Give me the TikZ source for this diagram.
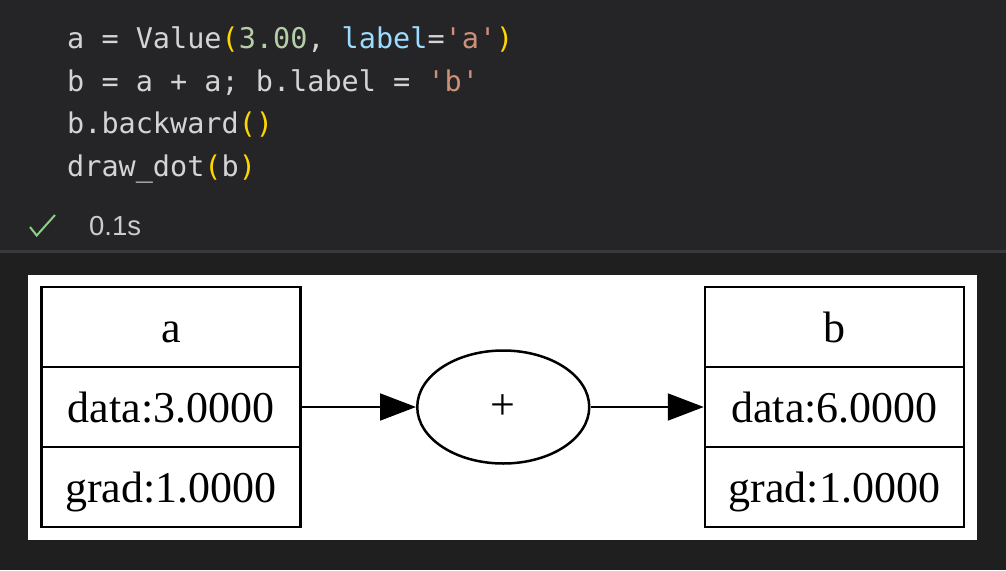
\documentclass[tikz,border=0pt]{standalone}
\usepackage{fontspec}
\setmainfont{Liberation Serif}
\setsansfont{Liberation Sans}
\setmonofont{DejaVu Sans Mono}
\usetikzlibrary{matrix,positioning,arrows.meta,shapes.geometric}
\definecolor{codebg}{HTML}{252527}
\definecolor{outbg}{HTML}{1F1F1F}
\definecolor{sepline}{HTML}{3A3A3D}
\definecolor{codefg}{HTML}{D4D4D4}
\definecolor{codeparen}{HTML}{FFD700}
\definecolor{codenum}{HTML}{B5CEA8}
\definecolor{codekey}{HTML}{9CDCFE}
\definecolor{codestr}{HTML}{CE9178}
\definecolor{checkgreen}{HTML}{89D185}
\definecolor{timefg}{HTML}{CCCCCC}

\begin{document}
\begin{tikzpicture}[x=1pt, y=-1pt,
    vmatrix/.style={
        matrix of nodes,
        line width=2.5pt,
        nodes={
            draw,
            minimum height=80pt,
            minimum width=259pt,
            text height=31pt,
            text depth=1pt,
            anchor=center,
            font=\fontsize{44}{50}\selectfont
            },
        column sep=-\pgflinewidth,
        row sep=-\pgflinewidth,
        inner sep=0pt
    },
    opnode/.style={
        draw,
        ellipse,
        line width=2.5pt,
        minimum width=172pt,
        minimum height=113pt,
        inner sep=0pt,
        font=\fontsize{44}{50}\selectfont
    },
    codeline/.style={
        anchor=base west,
        inner sep=0pt,
        text=codefg,
        font=\ttfamily\fontsize{28.5}{34}\selectfont
    },
    edge/.style={
        line width=2pt,
        -{Triangle[length=36pt,width=27pt]}
    }
]

\useasboundingbox (0,0) rectangle (1006,570);

% notebook cell and output area
\fill[codebg] (0,0) rectangle (1006,252);
\fill[outbg] (0,252) rectangle (1006,570);
\draw[sepline, line width=3pt] (0,251.5) -- (1006,251.5);

% code lines
\node[codeline] (line1) at (67,48) {a = Value\textcolor{codeparen}{(}\textcolor{codenum}{3.00}, \textcolor{codekey}{label}=\textcolor{codestr}{'a'}\textcolor{codeparen}{)}};
\node[codeline] (line2) at (67,91) {b = a + a; b.label = \textcolor{codestr}{'b'}};
\node[codeline] (line3) at (67,133) {b.backward\textcolor{codeparen}{()}};
\node[codeline] (line4) at (67,176) {draw\_dot\textcolor{codeparen}{(}b\textcolor{codeparen}{)}};

% run status
\draw[checkgreen, line width=2pt] (30,227) -- (36.7,235.5) -- (55,215);
\node[anchor=base west, inner sep=0pt, text=timefg, font=\sffamily\fontsize{27.5}{32}\selectfont] (time) at (89,235) {0.1s};

% graph output
\fill[white] (28,275) rectangle (977,540);

\matrix[vmatrix] (A) at (171,407) {
    a \\
    data:3.0000 \\
    grad:1.0000 \\
};

\node[opnode, right=113pt of A] (plus) {+};

\matrix[vmatrix, right=112pt of plus] (B) {
    b \\
    data:6.0000 \\
    grad:1.0000 \\
};

% Arrows
\draw[edge] (A-2-1.east) -- (plus.west);
\draw[edge] (plus.east) -- (B-2-1.west);

\end{tikzpicture}
\end{document}
